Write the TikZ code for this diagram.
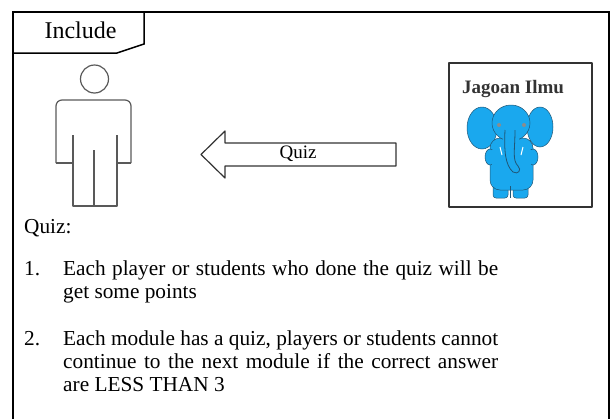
\documentclass[tikz,border=0pt]{standalone}
\usepackage{fontspec}
\setmainfont{Liberation Serif}

\definecolor{elephantblue}{RGB}{26,168,238}
\definecolor{elephantline}{RGB}{32,86,118}

\begin{document}
\hyphenpenalty=10000
\exhyphenpenalty=10000
\begin{tikzpicture}[
    x=1pt, y=-1pt,
    frame/.style={line width=1.8pt, draw=black},
    figline/.style={line width=1.2pt, draw=black!65, line join=round},
    item/.style={inner sep=0pt, anchor=north west, text width=435pt, align=justify,
        font=\fontsize{21.3}{23}\selectfont},
    num/.style={inner sep=0pt, anchor=base west, font=\fontsize{21.3}{23}\selectfont},
    ele/.style={fill=elephantblue, draw=elephantline, line width=0.5pt}
]
\useasboundingbox (0,0) rectangle (610,418);

% frame, open at the bottom
\draw[frame] (13,420) -- (13,12) -- (609,12) -- (609,420);
% tab with the cut corner
\draw[line width=1.5pt] (13,12) -- (144,12) -- (144,44) -- (117,53) -- (13,53);
\node[inner sep=0pt, anchor=base, font=\fontsize{24}{24}\selectfont] (tab) at (80.5,38) {Include};

% actor
\draw[figline] (94.5,79) circle (14pt);
\draw[figline, rounded corners=6pt] (56,163) -- (56,100) -- (131,100) -- (131,163);
\draw[figline] (56,163) -- (73,163) (117,163) -- (131,163);
\draw[figline] (73,135) -- (73,206) -- (117,206) -- (117,135);
\draw[figline] (94,150) -- (94,206);

% block arrow pointing at the actor
\draw[figline, draw=black!80] (396,143) -- (225,143) -- (225,131) -- (201,154.5)
    -- (225,178) -- (225,166) -- (396,166) -- cycle;
\node[inner sep=0pt, font=\fontsize{19}{19}\selectfont] (quizlbl) at (298,154) {Quiz};

% game box
\draw[figline, draw=black!80] (449,63) rectangle (592,207);
\node[inner sep=0pt, anchor=base, text=black!80, font=\bfseries\fontsize{19}{19}\selectfont] (brand) at (513,93) {Jagoan Ilmu};

% elephant
\path[ele] (482,128) ellipse (15pt and 21pt);
\path[ele] (540,127) ellipse (13pt and 20pt);
\path[ele, rounded corners=3pt] (493,176) rectangle (508,198);
\path[ele, rounded corners=3pt] (513,176) rectangle (528,198);
\path[ele, rounded corners=10pt] (490,138) rectangle (533,190);
\path[ele] (490,157) ellipse (5pt and 8pt);
\path[ele] (533,157) ellipse (5pt and 8pt);
\fill[elephantblue] (492,150) rectangle (531,186);
\path[ele] (511,123) ellipse (19pt and 18pt);
\fill[elephantblue] (503,138) rectangle (519,150);
\draw[elephantline, line width=0.8pt] (505,130) .. controls (504,150) and (505,165) .. (513,172)
    .. controls (518,175) and (522,170) .. (518,166);
\draw[elephantline, line width=0.8pt] (515,130) .. controls (515,150) and (512,160) .. (518,166);
\draw[elephantline, line width=0.5pt] (510,186) -- (510,198);
\fill[black!45] (499,125) circle (2pt) (524,125) circle (2pt);
\draw[white, line width=1pt] (500,147) -- (502,155) (523,147) -- (521,155);

% rules of the quiz
\node[num] (quizhead) at (24,233) {Quiz:};
\node[num] (num1) at (24,275) {1.};
\node[item] (pt1) at (63,259) {\strut Each player or students who done the quiz will be get some points};
\node[num] (num2) at (24,345) {2.};
\node[item] (pt2) at (63,329) {\strut Each module has a quiz, players or students cannot continue to the next module if the correct answer are LESS THAN 3};
\end{tikzpicture}
\end{document}
